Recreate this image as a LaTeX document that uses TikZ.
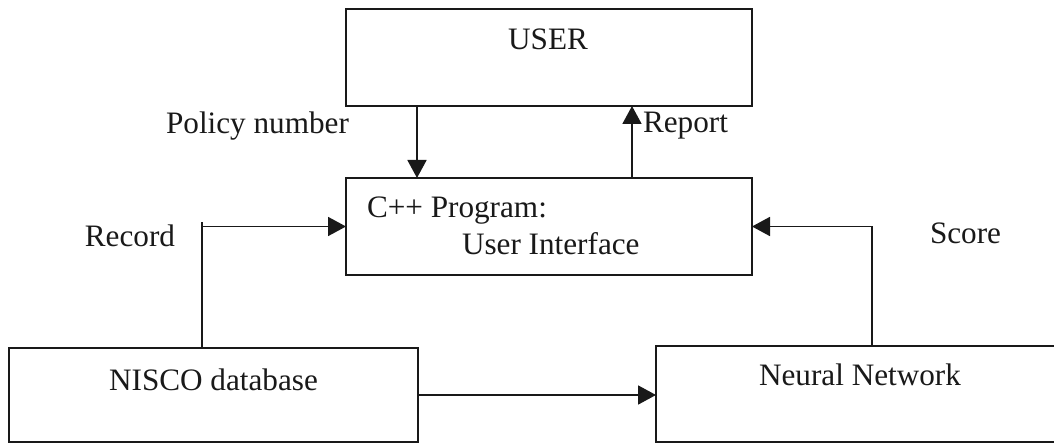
\documentclass[tikz,border=0pt]{standalone}
\usepackage{fontspec}
\setmainfont{Liberation Serif}
\usetikzlibrary{arrows.meta,calc}
\begin{document}
\begin{tikzpicture}[x=0.5pt,y=-0.5pt,
  box/.style={draw=black!90,line width=1pt,rectangle,inner sep=0pt,outer sep=0pt},
  lbl/.style={inner sep=0pt,outer sep=0pt,font=\fontsize{15.6}{18}\selectfont,text=black!90},
  arr/.style={draw=black!90,line width=0.9pt,-{Triangle[length=9pt,width=9.5pt]}},
  ln/.style={draw=black!90,line width=0.9pt}]
\useasboundingbox[fill=white] (0,0) rectangle (1054,443);
% boxes
\node[box,minimum width=203pt,minimum height=48.5pt] (user) at (549,57.5) {};
\node[box,minimum width=203pt,minimum height=48.5pt] (cpp) at (549,226.5) {};
\node[box,minimum width=204.5pt,minimum height=47pt] (nisco) at (213.5,395) {};
\node[box,minimum width=204pt,minimum height=48pt] (neural) at (860,394) {};
% texts
\node[lbl,anchor=base] (tuser) at (548,50) {USER};
\node[lbl,anchor=base west] (tcpp1) at (367,218) {C++ Program:};
\node[lbl,anchor=base west] (tcpp2) at (462,255) {User Interface};
\node[lbl,anchor=base] (tnisco) at (213.5,390) {NISCO database};
\node[lbl,anchor=base] (tneural) at (860,385) {Neural Network};
\node[lbl,anchor=base] (tpolicy) at (257.5,134) {Policy number};
\node[lbl,anchor=base west] (treport) at (643,133) {Report};
\node[lbl,anchor=base east] (trecord) at (175,247) {Record};
\node[lbl,anchor=base west] (tscore) at (930,243) {Score};
% connector x positions
\coordinate (xpol) at (417,0);
\coordinate (xrep) at (632,0);
\coordinate (xrec) at (202,0);
\coordinate (xsc) at (872,0);
% connectors
\draw[arr] (user.south -| xpol) -- (cpp.north -| xpol);
\draw[arr] (cpp.north -| xrep) -- (user.south -| xrep);
\draw[arr] (nisco.north -| xrec) |- (cpp.west);
\draw[ln] (cpp.west -| xrec) -- ++(0,-4);
\draw[arr] (neural.north -| xsc) |- (cpp.east);
\draw[arr] (nisco.east) -- (nisco.east -| neural.west);
\end{tikzpicture}
\end{document}
